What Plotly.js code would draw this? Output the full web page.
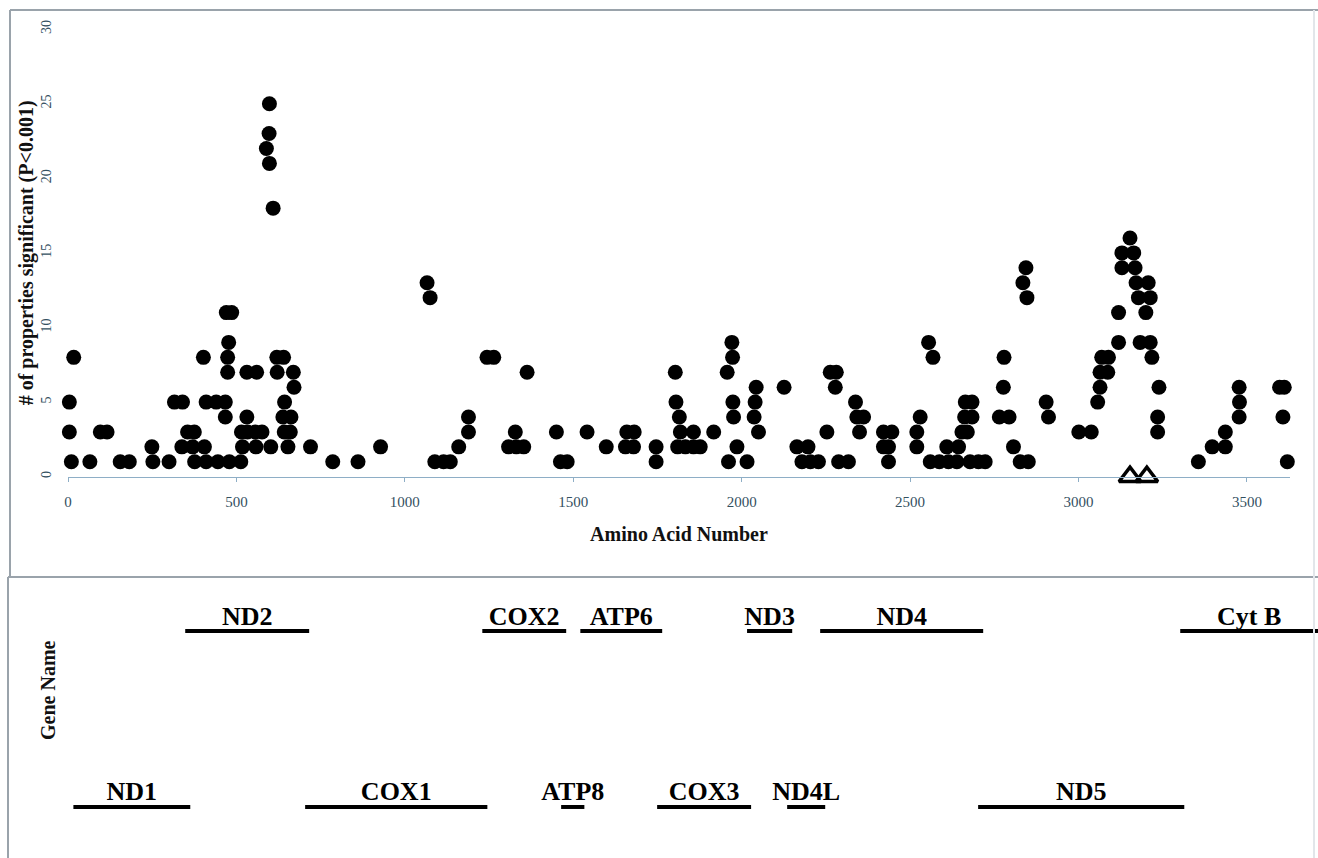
<!DOCTYPE html>
<html>
<head>
<meta charset="utf-8">
<script src="https://cdn.plot.ly/plotly-3.0.1.min.js"></script>
<style>
html,body{margin:0;padding:0;background:#ffffff;}
#chart{width:1318px;height:858px;}
</style>
</head>
<body>
<div id="chart"></div>
<script>
// ---- Data ----
const aaNumber = [
  4,4,10,17,65,96,116,155,182,249,252,300,316,338,340,355,370,375,376,402,405,410,410,440,445,
  467,467,470,474,474,477,479,486,513,515,518,531,531,533,556,558,560,576,589,597,598,598,602,609,
  620,621,638,640,642,643,653,660,662,669,671,720,786,861,928,
  1066,1075,1089,1115,1135,1160,1189,1189,1244,1264,1308,1328,1331,1353,1363,
  1450,1462,1482,1541,1598,1655,1659,1679,1681,1746,1746,
  1803,1805,1810,1815,1818,1833,1857,1857,1877,1917,1957,1961,1971,1973,1974,1976,1986,2016,
  2037,2040,2043,2050,2126,2164,2179,2197,2204,2228,2253,2263,2278,2281,2288,2317,2338,2342,2350,2362,
  2421,2421,2436,2436,2446,2520,2520,2530,2555,2560,2568,2587,2609,2614,2639,2644,2654,2662,2664,2670,
  2678,2684,2684,2703,2723,2765,2777,2779,2794,2807,2827,2835,2844,2847,2851,2904,2911,
  3001,3057,3064,3064,3069,3038,3087,3089,3119,3119,3129,3129,3153,3164,3168,3171,3178,3183,3200,3207,
  3213,3213,3218,3235,3235,3239,3356,3397,3436,3436,3477,3477,3478,3597,3607,3611,3620
];
const nSignificant = [
  3,5,1,8,1,3,3,1,1,2,1,1,5,2,5,3,2,3,1,8,2,1,5,5,1,
  4,5,11,7,8,9,1,11,1,3,2,4,7,3,3,2,7,3,22,23,21,25,2,18,
  8,7,4,8,3,5,2,3,4,7,6,2,1,1,2,
  13,12,1,1,1,2,3,4,8,8,2,3,2,2,7,
  3,1,1,3,2,2,3,2,3,1,2,
  7,5,2,4,3,2,2,3,2,3,7,1,9,8,5,4,2,1,
  4,5,6,3,6,2,1,2,1,1,3,7,6,7,1,1,5,4,3,4,
  2,3,1,2,3,2,3,4,9,1,8,1,2,1,1,2,3,4,5,3,
  1,4,5,1,1,4,6,8,4,2,1,13,14,12,1,5,4,
  3,5,6,7,8,3,7,8,9,11,14,15,16,15,14,13,12,9,11,13,
  9,12,8,3,4,6,1,2,2,3,4,6,5,6,4,6,1
];
const triangleAA = [3153, 3203];
const triangleY = [0, 0];

const geneNames = ['ND1','ND2','COX1','COX2','ATP8','ATP6','COX3','ND3','ND4L','ND4','ND5','Cyt B'];
const geneStart = [16, 348, 704, 1230, 1464, 1521, 1749, 2016, 2135, 2233, 2702, 3302];
const geneEnd   = [363, 716, 1245, 1479, 1533, 1764, 2028, 2150, 2248, 2717, 3314, 3720];
const geneRow   = [1, 2, 1, 2, 1, 2, 1, 2, 1, 2, 1, 2];   // 1 = lower row, 2 = upper row

const xTickVals = [0, 500, 1000, 1500, 2000, 2500, 3000, 3500];
const yTickVals = [0, 5, 10, 15, 20, 25, 30];

// ---- Layout helpers (pixel -> paper) ----
const W = 1318, H = 858, ML = 68;
const xp = p => (p - ML) / (W - ML);
const yp = p => (H - p) / H;

const serif = 'Liberation Serif, Times New Roman, serif';
const tickCol = '#34505f';
const axisCol = '#8eaec6';
const frameCol = '#9aa3ab';

// gene segment lines built from start/end arrays
const segX = [], segY = [];
geneStart.forEach((s, i) => { segX.push(s, geneEnd[i], null); segY.push(geneRow[i], geneRow[i], null); });
const labX = geneStart.map((s, i) => (s + Math.min(geneEnd[i], 3711)) / 2);

const traces = [
  {
    type: 'scatter', mode: 'markers', x: aaNumber, y: nSignificant,
    xaxis: 'x', yaxis: 'y',
    marker: {symbol: 'circle', size: 15, color: '#000000', line: {width: 0}},
    cliponaxis: false, hoverinfo: 'x+y', showlegend: false
  },
  {
    type: 'scatter', mode: 'markers', x: triangleAA, y: triangleY,
    xaxis: 'x', yaxis: 'y',
    marker: {symbol: 'triangle-up-open', size: 19, color: '#000000', line: {width: 3.5, color: '#000000'}},
    cliponaxis: false, showlegend: false
  },
  {
    type: 'scatter', mode: 'lines', x: segX, y: segY,
    xaxis: 'x2', yaxis: 'y2',
    line: {color: '#000000', width: 4},
    hoverinfo: 'skip', showlegend: false
  },
  {
    type: 'scatter', mode: 'text', x: labX, y: geneRow, text: geneNames,
    xaxis: 'x2', yaxis: 'y2',
    textposition: 'top center',
    textfont: {family: serif, size: 26, color: '#000000', weight: 'bold'},
    cliponaxis: false, hoverinfo: 'skip', showlegend: false
  }
];

const layout = {
  width: W, height: H,
  margin: {l: ML, r: 0, t: 0, b: 0, pad: 0},
  paper_bgcolor: '#ffffff', plot_bgcolor: '#ffffff',
  showlegend: false,
  font: {family: serif, color: '#000000'},
  xaxis: {
    domain: [0, xp(1290)], range: [0, 3628], anchor: 'y',
    showline: true, linecolor: axisCol, linewidth: 1,
    ticks: 'outside', ticklen: 4, tickcolor: axisCol, tickwidth: 1,
    tickmode: 'array', tickvals: xTickVals,
    tickfont: {family: serif, size: 15, color: tickCol},
    ticklabelstandoff: 7,
    showgrid: false, zeroline: false, automargin: false,
    title: {text: '<b>Amino Acid Number</b>', font: {family: serif, size: 20, color: '#111111'}, standoff: 18}
  },
  yaxis: {
    domain: [yp(476.7), yp(29.1)], range: [0, 30], anchor: 'x',
    showline: false, ticks: '', tickmode: 'array', tickvals: yTickVals, tickangle: -90,
    tickfont: {family: serif, size: 14, color: tickCol},
    ticklabelstandoff: 13,
    showgrid: false, zeroline: false, automargin: false,
    title: {text: '<b># of properties significant (P&lt;0.001)</b>', font: {family: serif, size: 20, color: '#111111'}, standoff: 0}
  },
  xaxis2: {
    domain: [0, 1], range: [0, 3711], anchor: 'y2', visible: false, fixedrange: true
  },
  yaxis2: {
    domain: [0, yp(580)], range: [0.71, 2.29], anchor: 'x2', visible: false, fixedrange: true
  },
  annotations: [
    {xref: 'paper', yref: 'paper', x: xp(48), y: yp(690), text: '<b>Gene Name</b>', textangle: -90,
     showarrow: false, font: {family: serif, size: 20, color: '#111111'}, xanchor: 'center', yanchor: 'middle'}
  ],
  shapes: [
    {type: 'line', xref: 'paper', yref: 'paper', x0: xp(10), x1: xp(1318), y0: yp(10), y1: yp(10), line: {color: frameCol, width: 2}},
    {type: 'line', xref: 'paper', yref: 'paper', x0: xp(10), x1: xp(10), y0: yp(10), y1: yp(577), line: {color: frameCol, width: 2}},
    {type: 'line', xref: 'paper', yref: 'paper', x0: xp(8), x1: xp(1318), y0: yp(577), y1: yp(577), line: {color: frameCol, width: 2}},
    {type: 'line', xref: 'paper', yref: 'paper', x0: xp(8), x1: xp(8), y0: yp(577), y1: yp(858), line: {color: frameCol, width: 2}},
    {type: 'line', xref: 'paper', yref: 'paper', x0: xp(1314), x1: xp(1314), y0: yp(10), y1: yp(858), line: {color: '#e2e6ea', width: 2}}
  ]
};

Plotly.newPlot('chart', traces, layout, {displayModeBar: false, staticPlot: true});
</script>
</body>
</html>
